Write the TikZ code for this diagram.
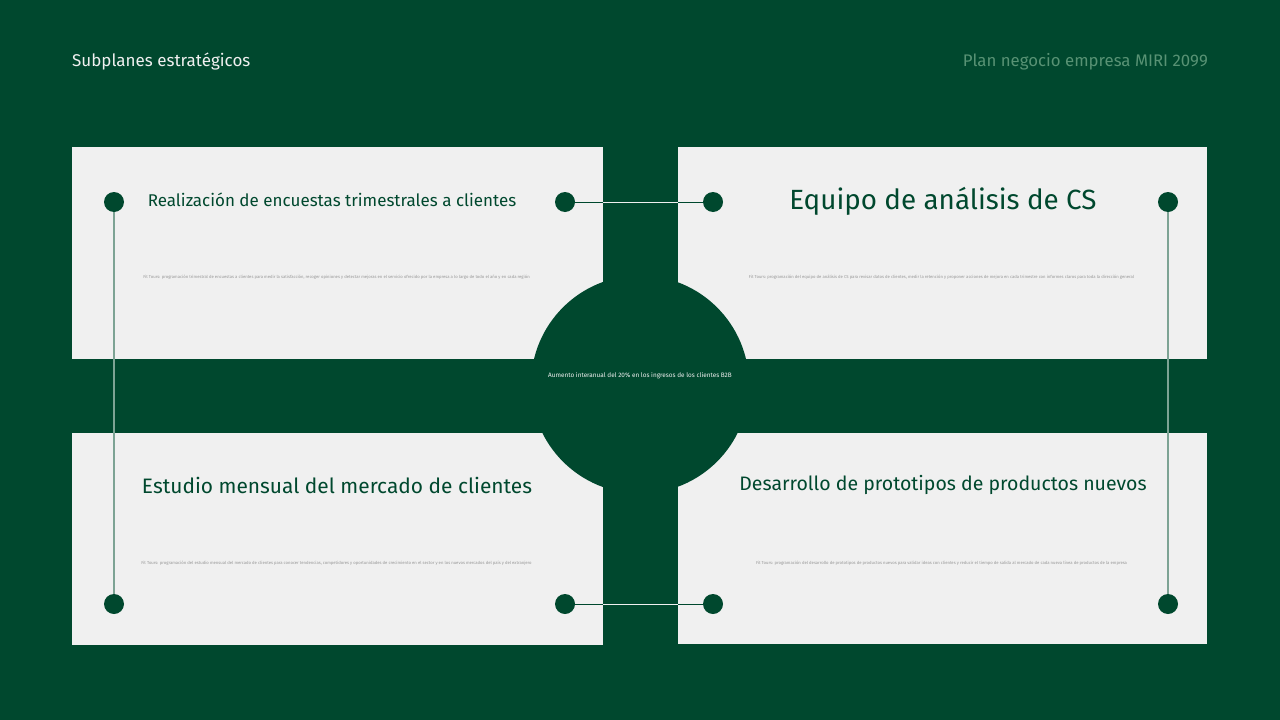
\documentclass[tikz,border=0pt]{standalone}
\usepackage{fontspec}
\setmainfont{Fira Sans}
\definecolor{bggreen}{RGB}{0,72,46}
\definecolor{cardgrey}{RGB}{240,240,240}
\definecolor{linegreen}{RGB}{125,163,148}
\definecolor{headgreen}{RGB}{88,146,116}
\definecolor{textgrey}{RGB}{150,150,150}
\tikzset{
  card/.style={fill=cardgrey, draw=none, minimum width=531pt, minimum height=212pt, inner sep=0pt},
  dot/.style={circle, fill=bggreen, minimum size=20pt, inner sep=0pt},
  title/.style={text=bggreen, inner sep=0pt},
  body/.style={text=textgrey, inner sep=0pt, font=\fontsize{4.2}{5}\selectfont}
}
\begin{document}
\begin{tikzpicture}[x=1pt, y=-1pt]
            \fill[bggreen] (0,0) rectangle (1280,720);
            \useasboundingbox (0,0) rectangle (1280,720);

            % header
            \node[anchor=west, inner sep=0pt, text=cardgrey, font=\fontsize{17}{20}\selectfont] (head) at (72, 62) {Subplanes estratégicos};
            \node[anchor=east, inner sep=0pt, text=headgreen, font=\fontsize{16.8}{20}\selectfont] (brand) at (1208, 62) {Plan negocio empresa MIRI 2099};

            % cards
            \node[card] (c00) at (337.5, 253) {};
            \node[card, minimum width=529pt] (c10) at (942.5, 252.5) {};
            \node[card] (c01) at (337.5, 539) {};
            \node[card, minimum width=529pt, minimum height=211pt] (c11) at (942.5, 538.5) {};

            % hub
            \node[circle, fill=bggreen, minimum size=218pt, inner sep=0pt] (hub) at (640, 384.5) {};
            \node[inner sep=0pt, text=cardgrey, font=\fontsize{6.4}{7}\selectfont] (goal) at (640, 376) {Aumento interanual del 20\% en los ingresos de los clientes B2B};

            % dots
            \node[dot] (d00) at (114, 202) {};
            \node[dot] (d10) at (565, 202) {};
            \node[dot] (d20) at (713, 202) {};
            \node[dot] (d30) at (1168, 202) {};

            \node[dot] (d01) at (114, 604) {};
            \node[dot] (d11) at (565, 604) {};
            \node[dot] (d21) at (713, 604) {};
            \node[dot] (d31) at (1168, 604) {};

            % links
            \draw[linegreen, line width=1.3pt] (d00) -- (d01);
            \draw[linegreen, line width=1.3pt] (d30) -- (d31);
            \draw[bggreen, line width=1pt] (d10) -- (d20);
            \draw[bggreen, line width=1pt] (d11) -- (d21);
            \draw[cardgrey, line width=1pt] (c00.east |- d10) -- (c10.west |- d20);
            \draw[cardgrey, line width=1pt] (c01.east |- d11) -- (c11.west |- d21);

            % titles
            \node[title, font=\fontsize{17}{20}\selectfont] (t00) at (332, 200) {Realización de encuestas trimestrales a clientes};
            \node[title, font=\fontsize{27.8}{32}\selectfont] (t10) at (943, 201) {Equipo de análisis de CS};
            \node[title, font=\fontsize{20.9}{24}\selectfont] (t01) at (337, 485) {Estudio mensual del mercado de clientes};
            \node[title, font=\fontsize{19.5}{23}\selectfont] (t11) at (943, 485) {Desarrollo de prototipos de productos nuevos};

            % body lines
            \node[body] (b00) at (336.5, 277) {Fit Tours: programación trimestral de encuestas a clientes para medir la satisfacción, recoger opiniones y detectar mejoras en el servicio ofrecido por la empresa a lo largo de todo el año y en cada región};
            \node[body] (b10) at (941.5, 277) {Fit Tours: programación del equipo de análisis de CS para revisar datos de clientes, medir la retención y proponer acciones de mejora en cada trimestre con informes claros para toda la dirección general};
            \node[body] (b01) at (336.5, 563) {Fit Tours: programación del estudio mensual del mercado de clientes para conocer tendencias, competidores y oportunidades de crecimiento en el sector y en los nuevos mercados del país y del extranjero};
            \node[body] (b11) at (941.5, 563) {Fit Tours: programación del desarrollo de prototipos de productos nuevos para validar ideas con clientes y reducir el tiempo de salida al mercado de cada nueva línea de productos de la empresa};
        \end{tikzpicture}
\end{document}
